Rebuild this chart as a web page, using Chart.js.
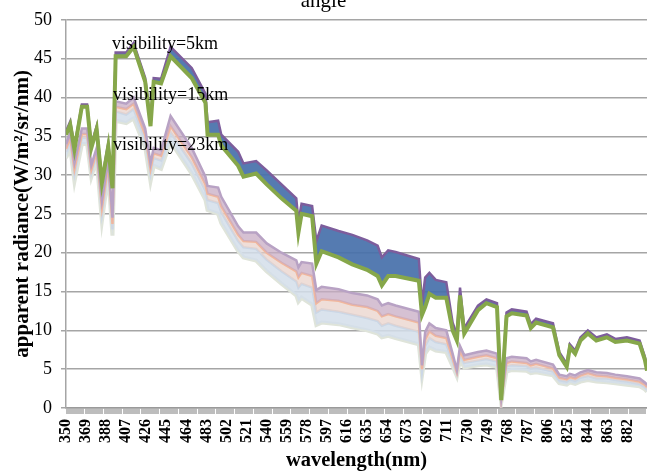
<!DOCTYPE html>
<html>
<head>
<meta charset="utf-8">
<script src="https://cdn.jsdelivr.net/npm/chart.js@4.4.0/dist/chart.umd.min.js"></script>
<style>
  html, body { margin: 0; padding: 0; background: #fff; }
  #wrap { width: 647px; height: 473px; position: relative; }
</style>
</head>
<body>
<div id="wrap"><canvas id="radianceChart"></canvas></div>
<script>
// wavelengths (nm) where the curves change direction
const wavelengths = [350,354,358,365,370,374,379,384,390,394,397,407,414,425,430,433,440,449,469,482,
  484,494,497,513,518,530,540,554,568,570,573,583,587,592,608,621,635,645,649,655,
  662,684,687,690,694,700,710,716,720,723,727,740,748,758,762,767,772,786,790,795,
  811,817,824,827,832,837,844,852,862,870,881,893,898,900];

// visibility = 5km, upper and lower edge of the bundle
const vis5Top = [35.6,36.9,33.7,39.1,39.1,33.9,36.3,29.4,34.1,28.7,45.8,45.8,47.0,42.5,36.8,42.5,42.4,46.5,43.8,40.5,
  36.8,37.0,35.2,33.0,31.5,31.8,30.6,28.8,27.0,24.0,26.3,26.0,21.5,23.5,22.8,22.3,21.6,20.9,19.4,20.3,
  20.1,19.2,13.5,16.8,17.4,16.5,16.2,11.0,9.5,15.5,10.3,13.2,14.0,13.5,1.5,12.3,12.7,12.4,10.8,11.5,
  10.9,7.2,5.7,8.2,7.4,9.1,10.0,9.1,9.5,8.9,9.1,8.7,6.6,5.2];
const vis5Bottom = [35.2,36.5,33.3,38.8,38.8,33.5,35.9,29.0,33.7,28.3,45.3,45.3,46.5,42.0,36.3,42.0,41.8,45.3,42.5,39.3,
  35.2,35.2,33.8,31.2,29.8,30.2,28.8,27.0,25.4,22.6,25.0,24.7,18.6,20.2,19.4,18.5,17.8,17.0,15.8,17.0,
  17.0,16.4,12.0,13.0,14.7,14.2,14.2,10.0,8.7,14.5,9.6,12.6,13.5,13.0,1.0,11.8,12.2,11.9,10.3,11.0,
  10.4,6.8,5.3,7.8,7.0,8.7,9.6,8.7,9.1,8.5,8.7,8.3,6.2,4.8];

// visibility = 15km
const vis15Top = [34.0,35.5,31.6,36.0,36.0,31.3,33.5,26.7,32.0,24.5,39.5,39.2,40.0,36.0,31.5,33.5,33.2,37.6,33.5,29.8,
  28.6,28.4,27.2,23.4,22.6,22.6,21.2,20.0,19.0,18.1,18.8,18.6,15.2,15.6,15.3,14.8,14.5,14.0,13.2,13.5,
  13.2,12.4,5.5,9.8,10.9,10.3,10.0,7.0,4.9,8.0,6.8,7.2,7.4,7.0,1.2,6.4,6.6,6.4,6.0,6.2,
  5.6,4.3,4.1,4.4,4.2,4.6,4.9,4.6,4.5,4.3,4.1,3.8,3.3,3.0];
const vis15Bottom = [33.4,34.8,30.8,35.3,35.3,30.7,33.0,25.8,31.3,23.7,38.8,38.5,39.2,35.2,30.8,32.8,32.5,36.3,32.3,28.8,
  27.6,27.2,26.0,22.3,21.5,21.4,20.0,18.7,17.6,16.8,17.4,17.0,13.5,14.0,13.8,13.3,13.0,12.5,11.8,12.1,
  11.8,11.0,5.0,8.8,9.9,9.3,9.0,6.4,4.6,7.4,6.2,6.6,6.8,6.4,1.0,5.8,6.0,5.8,5.5,5.7,
  5.1,3.9,3.7,4.0,3.8,4.2,4.5,4.2,4.1,3.9,3.7,3.4,3.0,2.7];

// visibility = 23km
const vis23Top = [33.0,34.3,30.2,34.8,34.8,30.3,32.6,25.0,30.7,23.0,38.2,37.8,38.5,34.6,30.2,32.2,31.9,35.5,31.5,28.0,
  26.8,26.4,25.2,21.5,20.7,20.5,19.1,17.6,16.3,15.5,16.0,15.5,12.3,12.7,12.4,12.0,11.6,11.2,10.6,10.9,
  10.6,9.8,4.7,8.0,9.0,8.5,8.2,6.0,4.4,6.9,5.8,6.1,6.3,6.0,0.9,5.4,5.5,5.4,5.1,5.2,
  4.7,3.6,3.4,3.7,3.5,3.9,4.1,3.8,3.8,3.6,3.4,3.1,2.7,2.4];
const vis23Bottom = [32.2,33.5,29.2,34.0,34.0,29.8,32.0,24.1,30.0,22.2,37.0,36.7,37.3,33.6,29.2,31.2,30.8,34.3,30.2,26.8,
  25.5,25.0,23.8,20.2,19.4,19.0,17.6,16.0,14.5,13.7,14.2,13.3,10.7,11.0,10.8,10.4,10.0,9.6,9.1,9.3,
  9.0,8.2,4.2,7.0,7.8,7.4,7.2,5.4,4.1,6.2,5.2,5.5,5.6,5.3,0.7,4.7,4.9,4.8,4.5,4.6,
  4.2,3.2,3.0,3.3,3.1,3.4,3.6,3.4,3.3,3.2,3.0,2.8,2.4,2.1];

const tickLabels = [350,369,388,407,426,445,464,483,502,521,540,559,578,597,616,635,654,673,
  692,711,730,749,768,787,806,825,844,863,882];

const annotations = [
  { text: 'visibility=5km', x: 393.5, y: 46.8 },
  { text: 'visibility=15km', x: 394.5, y: 40.3 },
  { text: 'visibility=23km', x: 394.5, y: 33.8 }
];

const SERIF = '"Liberation Serif", "Times New Roman", serif';
const toPoints = arr => wavelengths.map((w, i) => ({ x: w, y: arr[i] }));

const visibilityLabels = {
  id: 'visibilityLabels',
  afterDatasetsDraw(chart) {
    const { ctx, scales: { x, y } } = chart;
    ctx.save();
    ctx.font = '18px ' + SERIF;
    ctx.fillStyle = '#000';
    ctx.textBaseline = 'middle';
    annotations.forEach(a => ctx.fillText(a.text, x.getPixelForValue(a.x), y.getPixelForValue(a.y)));
    ctx.restore();
  }
};

const line = (data, color, width, order, fill, fillColor) => ({
  data: toPoints(data),
  borderColor: color,
  borderWidth: width,
  pointRadius: 0,
  tension: 0,
  order: order,
  fill: fill || false,
  backgroundColor: fillColor || color
});

new Chart(document.getElementById('radianceChart'), {
  type: 'line',
  data: {
    datasets: [
      line(vis5Top, '#7d5d9c', 2.5, 2, '+1', 'rgba(70,112,170,0.92)'),
      line(vis5Bottom, '#86a74a', 4, 1),
      line(vis15Top, '#b8a2c4', 2.5, 3, '+1', 'rgba(200,172,196,0.75)'),
      line(vis15Bottom, '#f2b79c', 2.5, 4, '+1', 'rgba(232,208,200,0.7)'),
      line(vis23Top, '#cbd7e6', 2.5, 5, '+1', 'rgba(212,222,234,0.85)'),
      line(vis23Bottom, '#dfe4da', 4, 6)
    ]
  },
  options: {
    responsive: true,
    maintainAspectRatio: false,
    animation: false,
    layout: { padding: 0 },
    plugins: {
      legend: { display: false },
      tooltip: { enabled: false },
      title: {
        display: true,
        text: 'angle',
        color: '#000',
        font: { family: SERIF, size: 21, weight: 'normal', lineHeight: 0 },
        padding: { top: 0, bottom: 18 }
      }
    },
    scales: {
      x: {
        type: 'linear',
        min: 350,
        max: 900,
        afterBuildTicks(scale) {
          const ticks = [];
          for (let v = 350; v <= 900; v++) ticks.push({ value: v });
          scale.ticks = ticks;
        },
        afterFit(scale) {
          scale.height = 65;
          scale.paddingLeft = 0;
          scale.paddingRight = 0;
        },
        ticks: {
          autoSkip: false,
          minRotation: 90,
          maxRotation: 90,
          padding: 5,
          color: '#000',
          font: { family: SERIF, size: 16, weight: 'bold' },
          callback: v => (tickLabels.includes(v) ? String(v) : '')
        },
        grid: { drawOnChartArea: false, tickLength: 6, color: '#bdbdbd', lineWidth: 1 },
        border: { color: '#9a9a9a', width: 1.5 },
        title: {
          display: true,
          text: 'wavelength(nm)',
          color: '#000',
          font: { family: SERIF, size: 20.5, weight: 'bold' },
          padding: { top: 0, bottom: 0 }
        }
      },
      y: {
        min: 0,
        max: 50,
        afterFit(scale) { scale.width = 66; },
        ticks: {
          stepSize: 5,
          padding: 9,
          color: '#000',
          font: { family: SERIF, size: 18 }
        },
        grid: { color: '#a5a5a5', lineWidth: 1.5, tickLength: 5 },
        border: { color: '#a5a5a5', width: 1.5 },
        title: {
          display: true,
          text: 'apparent radiance(W/m²/sr/nm)',
          color: '#000',
          font: { family: SERIF, size: 21, weight: 'bold' },
          padding: { top: 10, bottom: 0 }
        }
      }
    }
  },
  plugins: [visibilityLabels]
});
</script>
</body>
</html>
